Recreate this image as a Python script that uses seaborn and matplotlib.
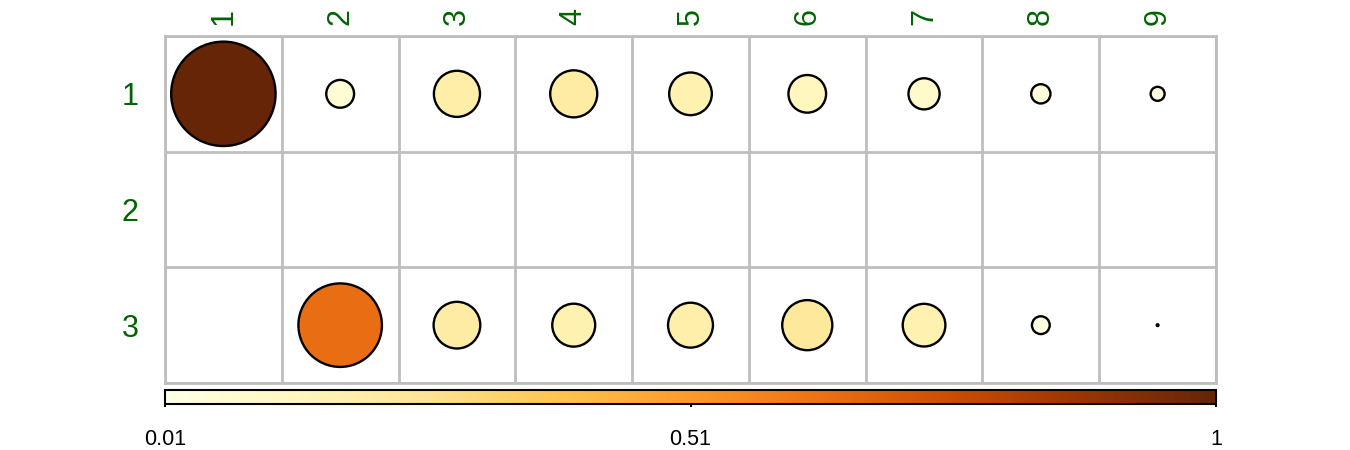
import numpy as np
import pandas as pd
import matplotlib
matplotlib.use("Agg")
import matplotlib.pyplot as plt
import seaborn as sns

# matrix layout (rows x columns), empty cells are NaN
row_labels = ["1", "2", "3"]
col_labels = ["1", "2", "3", "4", "5", "6", "7", "8", "9"]
row1_values = [1.00, 0.071, 0.195, 0.203, 0.167, 0.13, 0.089, 0.034, 0.018]
row2_values = [np.nan] * 9
row3_values = [np.nan, 0.64, 0.20, 0.169, 0.185, 0.23, 0.167, 0.029, 0.0003]
color_limits = (0.01, 1.0)
colorbar_ticks = [0.01, 0.505, 1.0]
colorbar_labels = ["0.01", "0.51", "1"]

sns.set_style("white")
plt.rcParams['font.family'] = ['Liberation Sans', 'DejaVu Sans']

# long table for seaborn
records = []
for r_idx, vals in enumerate([row1_values, row2_values, row3_values]):
    for c_idx, v in enumerate(vals):
        records.append({'row': r_idx + 1, 'col': c_idx + 1, 'value': v})
df = pd.DataFrame(records).dropna()

W, H = 1350, 450
fig = plt.figure(figsize=(W / 100, H / 100), dpi=100)
ax = fig.add_axes([165 / W, 1 - 383 / H, 1051 / W, 347 / H])

cell_px = 116.0
max_size = (0.9 * cell_px * 0.72) ** 2

sns.scatterplot(
    data=df, x='col', y='row', hue='value', size='value',
    palette='YlOrBr', hue_norm=color_limits,
    sizes=(0, max_size), size_norm=(0, 1),
    edgecolor='black', linewidth=1.7, legend=False, ax=ax, zorder=3
)

ax.set_xlim(0.5, len(col_labels) + 0.5)
ax.set_ylim(len(row_labels) + 0.5, 0.5)
ax.set_xlabel('')
ax.set_ylabel('')

# labels on top and left
ax.xaxis.tick_top()
ax.set_xticks(range(1, len(col_labels) + 1))
ax.set_xticklabels(col_labels, rotation=90, color='#006400', fontsize=22)
ax.set_yticks(range(1, len(row_labels) + 1))
ax.set_yticklabels(row_labels, color='#006400', fontsize=22)
ax.tick_params(axis='both', which='major', length=0)
ax.tick_params(axis='x', pad=8)
ax.tick_params(axis='y', pad=19)

# grey cell grid
ax.set_xticks(np.arange(0.5, len(col_labels) + 1), minor=True)
ax.set_yticks(np.arange(0.5, len(row_labels) + 1), minor=True)
ax.tick_params(which='minor', length=0)
ax.grid(which='minor', color='#BEBEBE', linewidth=2)
ax.grid(which='major', visible=False)
for sp in ax.spines.values():
    sp.set_color('#BEBEBE')
    sp.set_linewidth(2)

# horizontal colour bar
cax = fig.add_axes([165 / W, 1 - 404 / H, 1051 / W, 14 / H])
sm = plt.cm.ScalarMappable(cmap='YlOrBr',
                           norm=plt.Normalize(*color_limits))
cbar = fig.colorbar(sm, cax=cax, orientation='horizontal')
cbar.set_ticks(colorbar_ticks)
cbar.set_ticklabels(colorbar_labels)
cbar.outline.set_edgecolor('black')
cbar.outline.set_linewidth(1.5)
cax.tick_params(length=2, width=1.5, color='black', labelcolor='black',
                labelsize=15.5, pad=16)

fig.savefig('out.png', dpi=100)
